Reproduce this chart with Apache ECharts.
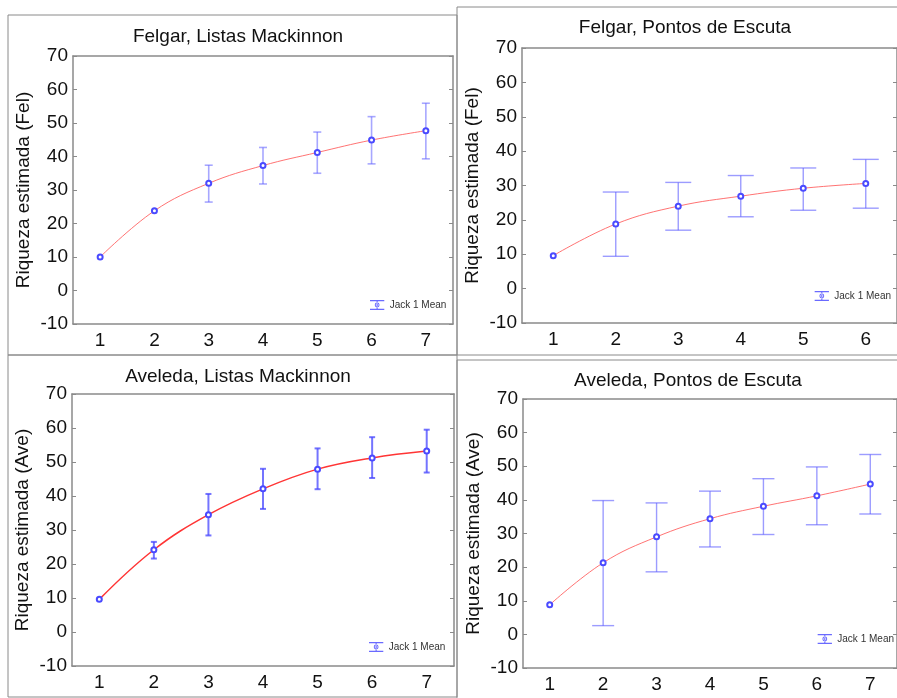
<!DOCTYPE html>
<html lang="pt">
<head>
  <meta charset="UTF-8" />
  <title>Riqueza estimada</title>
  <script src="https://cdn.jsdelivr.net/npm/echarts@6/dist/echarts.min.js"></script>
  <style>
    html, body { margin: 0; padding: 0; background: #fff; }
  </style>
</head>
<body>
  <div id="main" style="width: 897px;height:698px;"></div>
  <script type="text/javascript">
    // categorias do eixo x (número de listas / pontos)
    var cats7 = ['1', '2', '3', '4', '5', '6', '7']
    var cats6 = ['1', '2', '3', '4', '5', '6']

    // Felgar, Listas Mackinnon
    var felMackMean = [10, 23.8, 32.0, 37.3, 41.2, 44.9, 47.7]
    var felMackLow = [null, null, 26.4, 31.8, 35.0, 37.8, 39.3]
    var felMackHigh = [null, null, 37.4, 42.7, 47.3, 51.9, 55.9]

    // Felgar, Pontos de Escuta
    var felPontMean = [9.6, 18.8, 24.0, 26.9, 29.2, 30.6]
    var felPontLow = [null, 9.4, 17.0, 20.9, 22.8, 23.4]
    var felPontHigh = [null, 28.1, 30.9, 32.9, 35.1, 37.6]

    // Aveleda, Listas Mackinnon
    var aveMackMean = [9.6, 24.2, 34.5, 42.1, 47.9, 51.2, 53.2]
    var aveMackLow = [null, 21.6, 28.4, 36.2, 42.0, 45.3, 46.9]
    var aveMackHigh = [null, 26.5, 40.6, 48.0, 54.0, 57.3, 59.5]

    // Aveleda, Pontos de Escuta
    var avePontMean = [8.8, 21.3, 29.0, 34.4, 38.1, 41.2, 44.7]
    var avePontLow = [null, 2.6, 18.6, 26.0, 29.7, 32.6, 35.8]
    var avePontHigh = [null, 39.8, 39.1, 42.6, 46.3, 49.8, 53.5]

    var yTicks = { min: -10, max: 70, interval: 10 }

    var font = 'Liberation Sans, Arial, sans-serif'
    var frameColor = '#8a8a8a'
    var legendIcon = 'path://M0,0H20V1.6H0Z M0,12.4H20V14H0Z M9.2,0H10.8V14H9.2Z M10,3.6A3.4,3.4,0,1,0,10,10.4A3.4,3.4,0,1,0,10,3.6Z M10,5A2,2,0,1,1,10,9A2,2,0,1,1,10,5Z'

    var panels = [
      { title: 'Felgar, Listas Mackinnon', yName: 'Riqueza estimada (Fel)', cats: cats7,
        mean: felMackMean, low: felMackLow, high: felMackHigh,
        grid: { left: 73, top: 56, width: 380, height: 268 }, titlePos: [233, 22],
        legendPos: { left: 370, top: 300 }, cap: 4, barColor: 'rgba(95,95,255,0.55)', barWidth: 1.6,
        lineColor: 'rgba(255,90,90,0.85)', lineWidth: 1 },
      { title: 'Felgar, Pontos de Escuta', yName: 'Riqueza estimada (Fel)', cats: cats6,
        mean: felPontMean, low: felPontLow, high: felPontHigh,
        grid: { left: 522, top: 48, width: 378, height: 275 }, titlePos: [680, 13],
        legendPos: { right: 6, top: 291 }, cap: 13, barColor: 'rgba(90,90,255,0.6)', barWidth: 1.4,
        lineColor: 'rgba(255,90,90,0.85)', lineWidth: 1 },
      { title: 'Aveleda, Listas Mackinnon', yName: 'Riqueza estimada (Ave)', cats: cats7,
        mean: aveMackMean, low: aveMackLow, high: aveMackHigh,
        grid: { left: 72, top: 394, width: 382, height: 272 }, titlePos: [233, 362],
        legendPos: { left: 369, top: 642 }, cap: 3, barColor: 'rgba(70,70,255,0.75)', barWidth: 2,
        lineColor: '#ff3535', lineWidth: 1.5 },
      { title: 'Aveleda, Pontos de Escuta', yName: 'Riqueza estimada (Ave)', cats: cats7,
        mean: avePontMean, low: avePontLow, high: avePontHigh,
        grid: { left: 523, top: 399, width: 382, height: 269 }, titlePos: [683, 366],
        legendPos: { right: 3, top: 634 }, cap: 11, barColor: 'rgba(90,90,255,0.6)', barWidth: 1.4,
        lineColor: 'rgba(255,90,90,0.85)', lineWidth: 1 }
    ]

    var frames = [
      [8, 15, 449, 340],
      [457, 7, 460, 348],
      [8, 355, 449, 342],
      [457, 360, 460, 360]
    ]

    // barras de erro desenhadas com série custom
    function errorBar(cap, color, width) {
      return function (params, api) {
        var i = api.value(0)
        var top = api.coord([i, api.value(2)])
        var bot = api.coord([i, api.value(1)])
        var style = { stroke: color, lineWidth: width }
        return {
          type: 'group',
          children: [
            { type: 'line', shape: { x1: top[0], y1: top[1], x2: bot[0], y2: bot[1] }, style: style },
            { type: 'line', shape: { x1: top[0] - cap, y1: top[1], x2: top[0] + cap, y2: top[1] }, style: style },
            { type: 'line', shape: { x1: bot[0] - cap, y1: bot[1], x2: bot[0] + cap, y2: bot[1] }, style: style }
          ]
        }
      }
    }

    var option = {
      animation: false,
      backgroundColor: '#fff',
      textStyle: { fontFamily: font },
      title: [], grid: [], xAxis: [], yAxis: [], legend: [], series: [],
      graphic: frames.map(function (f) {
        return {
          type: 'rect', silent: true, z: -1,
          shape: { x: f[0], y: f[1], width: f[2], height: f[3] },
          style: { fill: 'none', stroke: frameColor, lineWidth: 1 }
        }
      })
    }

    panels.forEach(function (p, k) {
      option.title.push({
        text: p.title, left: p.titlePos[0], top: p.titlePos[1], textAlign: 'center',
        textStyle: { fontFamily: font, fontSize: 19, fontWeight: 'normal', color: '#111' }
      })
      option.grid.push(Object.assign({ containLabel: false }, p.grid))
      option.xAxis.push({
        type: 'category', gridIndex: k, data: p.cats, boundaryGap: true,
        axisLine: { onZero: false, lineStyle: { color: frameColor, width: 1.5 } },
        axisTick: { inside: true, alignWithLabel: true, length: 4, lineStyle: { color: frameColor } },
        axisLabel: { fontFamily: font, fontSize: 19, color: '#111', margin: 7 },
        splitLine: { show: false }
      })
      option.yAxis.push({
        type: 'value', gridIndex: k, min: yTicks.min, max: yTicks.max, interval: yTicks.interval,
        name: p.yName, nameLocation: 'middle', nameGap: 40,
        nameTextStyle: { fontFamily: font, fontSize: 19, color: '#111' },
        axisLine: { show: true, onZero: false, lineStyle: { color: frameColor, width: 1.5 } },
        axisTick: { show: true, inside: true, length: 4, lineStyle: { color: frameColor } },
        axisLabel: { fontFamily: font, fontSize: 19, color: '#111', margin: 5 },
        splitLine: { show: false }
      })
      option.legend.push(Object.assign({
        orient: 'vertical', padding: 0,
        selectedMode: false, itemWidth: 15, itemHeight: 10, itemGap: 4,
        data: [{ name: 'Jack 1 Mean', icon: legendIcon, itemStyle: { color: 'rgba(80,80,255,0.85)' } }],
        textStyle: { fontFamily: font, fontSize: 10, color: '#333' }
      }, p.legendPos))
      var bars = []
      p.low.forEach(function (v, i) {
        if (v != null) bars.push([i, v, p.high[i]])
      })
      option.series.push({
        type: 'custom', name: 'erro', xAxisIndex: k, yAxisIndex: k, z: 2,
        renderItem: errorBar(p.cap, p.barColor, p.barWidth),
        encode: { x: 0, y: [1, 2] },
        data: bars
      })
      option.series.push({
        type: 'line', name: 'Jack 1 Mean', xAxisIndex: k, yAxisIndex: k, z: 3,
        data: p.mean, smooth: 0.4,
        symbol: 'emptyCircle', symbolSize: 5,
        itemStyle: { color: '#4a4aff', borderWidth: 1.2 },
        lineStyle: { color: p.lineColor, width: p.lineWidth }
      })
    })

    // eixos espelhados (topo e direita) com marcas interiores
    panels.forEach(function (p, k) {
      option.xAxis.push({
        type: 'category', gridIndex: k, position: 'top', data: p.cats, boundaryGap: true,
        axisLine: { onZero: false, lineStyle: { color: frameColor, width: 1.5 } },
        axisTick: { inside: true, alignWithLabel: true, length: 4, lineStyle: { color: frameColor } },
        axisLabel: { show: false }, splitLine: { show: false }
      })
      option.yAxis.push({
        type: 'value', gridIndex: k, position: 'right',
        min: yTicks.min, max: yTicks.max, interval: yTicks.interval,
        axisLine: { show: true, onZero: false, lineStyle: { color: frameColor, width: 1.5 } },
        axisTick: { show: true, inside: true, length: 4, lineStyle: { color: frameColor } },
        axisLabel: { show: false }, splitLine: { show: false }
      })
    })

    var myChart = echarts.init(document.getElementById('main'))
    myChart.setOption(option)
  </script>
</body>
</html>
